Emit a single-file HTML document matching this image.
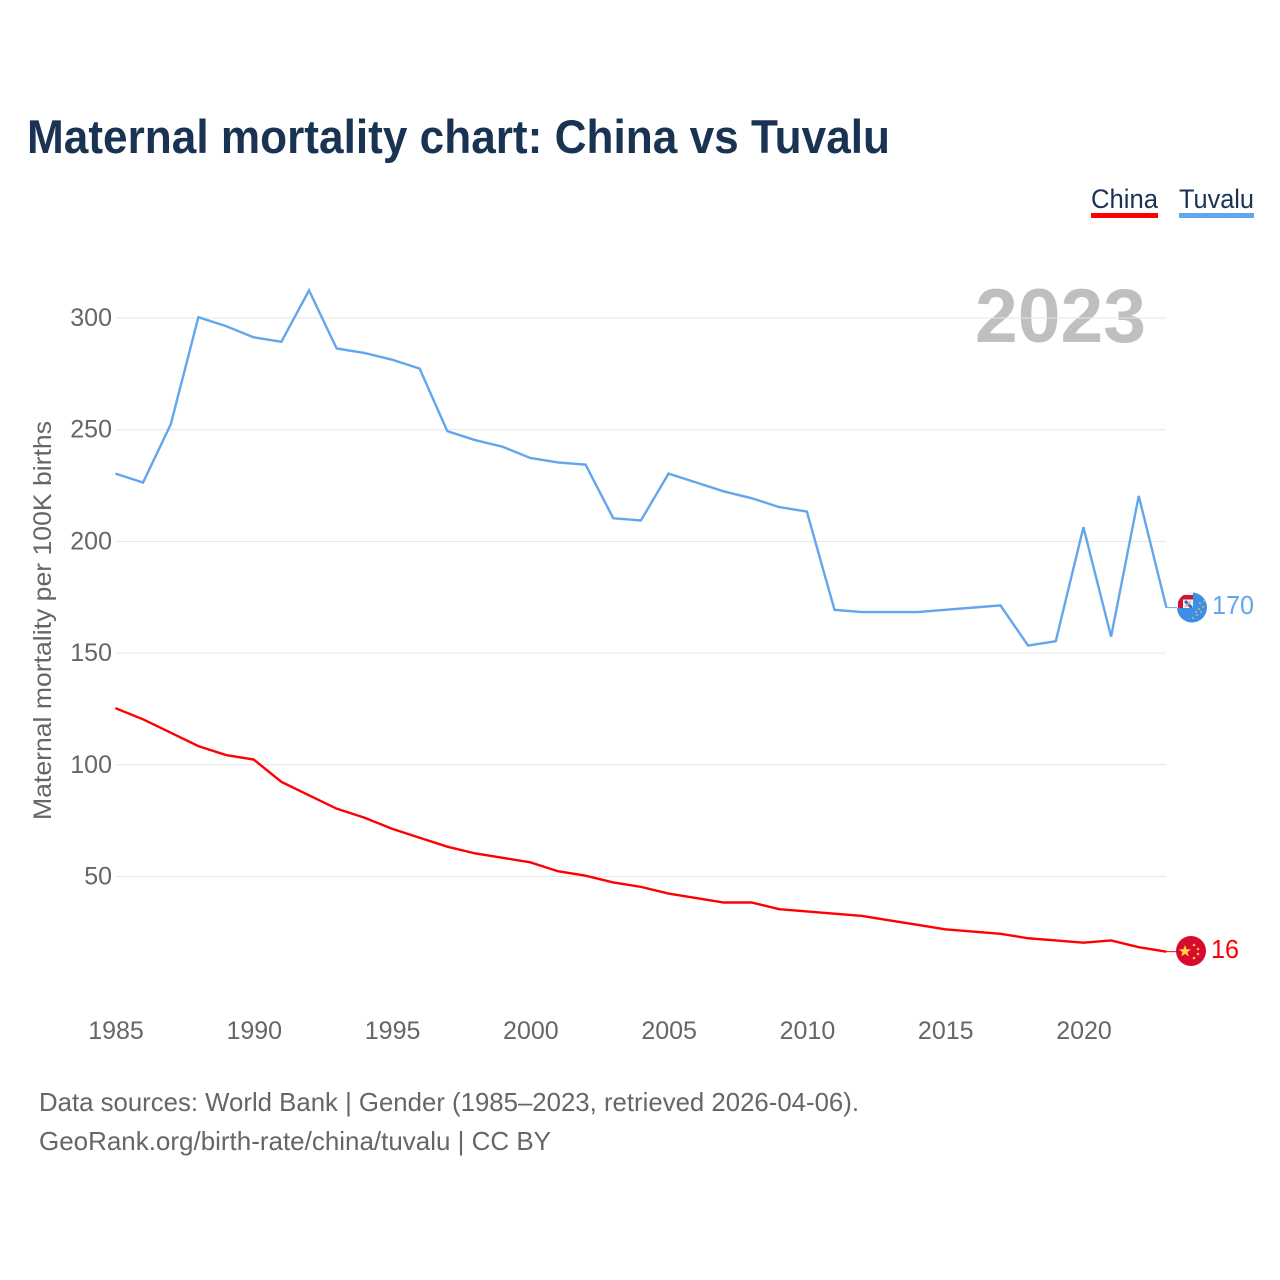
<!DOCTYPE html>
<html lang="en">
<head>
<meta charset="utf-8">
<title>Maternal mortality chart: China vs Tuvalu</title>
<style>
html,body{margin:0;padding:0;background:#fff;}
svg{display:block;font-family:"Liberation Sans",sans-serif;}
</style>
</head>
<body>
<svg id="chart" xmlns="http://www.w3.org/2000/svg" width="1280" height="1280" viewBox="0 0 1280 1280">
  <defs>
    <clipPath id="clip-tv"><circle cx="1192" cy="607.5" r="15"/></clipPath>
    <clipPath id="clip-cn"><circle cx="1191" cy="951" r="15"/></clipPath>
  </defs>
  <text x="27" y="153" font-size="47" font-weight="700" fill="#1a3353" textLength="863" lengthAdjust="spacingAndGlyphs">Maternal mortality chart: China vs Tuvalu</text>

  <text x="1091" y="208" font-size="27" fill="#1a3353" textLength="67" lengthAdjust="spacingAndGlyphs">China</text>
  <rect x="1091" y="213" width="67" height="5" fill="#ff0000"/>
  <text x="1179" y="208" font-size="27" fill="#1a3353" textLength="75" lengthAdjust="spacingAndGlyphs">Tuvalu</text>
  <rect x="1179" y="213" width="75" height="5" fill="#62a6ec"/>

  <text x="975" y="342" font-size="76" font-weight="700" fill="#bfbfbf" textLength="171" lengthAdjust="spacingAndGlyphs">2023</text>

  <g id="grid"></g>
  <g id="y-ticks"></g>
  <g id="x-ticks"></g>
  <text transform="translate(51,820) rotate(-90)" font-size="25" fill="#666666" textLength="399" lengthAdjust="spacingAndGlyphs">Maternal mortality per 100K births</text>
  <g id="series" transform="translate(-0.6,-0.8)"></g>

  <g clip-path="url(#clip-tv)">
    <rect x="1177" y="592" width="30" height="31" fill="#3d8fe6"/>
    <rect x="1177" y="592" width="16" height="16" fill="#f4f4f4"/>
    <rect x="1178" y="595" width="15" height="4.5" fill="#d2152f"/>
    <rect x="1178" y="595" width="5" height="13" fill="#d2152f"/>
    <path d="M1185 601 L1192 608" stroke="#3d6fb8" stroke-width="3"/>
    <path d="M1185 607 L1191 601" stroke="#e9a0aa" stroke-width="1.5"/>
    <g fill="#e6c65a">
      <circle cx="1200" cy="603" r=".9"/><circle cx="1204" cy="601" r=".9"/><circle cx="1203" cy="607" r=".9"/>
      <circle cx="1199" cy="609" r=".9"/><circle cx="1196" cy="612" r=".9"/><circle cx="1201" cy="612" r=".9"/>
      <circle cx="1193" cy="618" r=".9"/><circle cx="1197" cy="615" r=".9"/>
    </g>
  </g>
  <text x="1212" y="614" font-size="26" fill="#62a6ec" textLength="42" lengthAdjust="spacingAndGlyphs">170</text>

  <g clip-path="url(#clip-cn)">
    <rect x="1176" y="936" width="30" height="30" fill="#d80b2f"/>
    <path d="M1185 945 l1.6 4.2 4.4 .2 -3.5 2.7 1.2 4.3 -3.7-2.5 -3.7 2.5 1.2-4.3 -3.5-2.7 4.4-.2z" fill="#ffd83d"/>
    <g fill="#f7c646">
      <circle cx="1194" cy="945" r="1.3"/><circle cx="1198" cy="949" r="1.3"/>
      <circle cx="1198" cy="954" r="1.3"/><circle cx="1194" cy="958" r="1.3"/>
    </g>
  </g>
  <text x="1211" y="958" font-size="26" fill="#ff0000" textLength="28" lengthAdjust="spacingAndGlyphs">16</text>

  <text x="39" y="1111" font-size="26" fill="#666666" textLength="820" lengthAdjust="spacingAndGlyphs">Data sources: World Bank | Gender (1985–2023, retrieved 2026-04-06).</text>
  <text x="39" y="1150" font-size="26" fill="#666666" textLength="512" lengthAdjust="spacingAndGlyphs">GeoRank.org/birth-rate/china/tuvalu | CC BY</text>
</svg>
<script>
const years = [1985,1986,1987,1988,1989,1990,1991,1992,1993,1994,1995,1996,1997,1998,1999,2000,2001,2002,2003,2004,2005,2006,2007,2008,2009,2010,2011,2012,2013,2014,2015,2016,2017,2018,2019,2020,2021,2022,2023];
const tuvaluValues = [230,226,252,300,296,291,289,312,286,284,281,277,249,245,242,237,235,234,210,209,230,226,222,219,215,213,169,168,168,168,169,170,171,153,155,206,157,220,170];
const chinaValues = [125,120,114,108,104,102,92,86,80,76,71,67,63,60,58,56,52,50,47,45,42,40,38,38,35,34,33,32,30,28,26,25,24,22,21,20,21,18,16];
const yTickValues = [50,100,150,200,250,300];
const xTickValues = [1985,1990,1995,2000,2005,2010,2015,2020];

const SVG_NS = 'http://www.w3.org/2000/svg';
function xScale(year) { return 116 + (year - 1985) * (1167 - 116) / 38; }
function yScale(value) { return 876.5 - (value - 50) * (876.5 - 318) / 250; }
function linePoints(values) {
  return values.map(function (v, i) { return xScale(years[i]).toFixed(2) + ',' + yScale(v).toFixed(2); }).join(' ');
}

const gridGroup = document.getElementById('grid');
const yTickGroup = document.getElementById('y-ticks');
yTickValues.forEach(function (v) {
  const gridLine = document.createElementNS(SVG_NS, 'line');
  
  
  gridLine.setAttribute('x1', 116);
  gridLine.setAttribute('x2', 1166);
  gridLine.setAttribute('y1', yScale(v));
  gridLine.setAttribute('y2', yScale(v));
  gridLine.setAttribute('stroke', '#e6e6e6');
  gridLine.setAttribute('stroke-width', 1);
  gridGroup.appendChild(gridLine);

  const label = document.createElementNS(SVG_NS, 'text');
  
  
  label.setAttribute('x', 112);
  label.setAttribute('y', yScale(v) + 8);
  label.setAttribute('text-anchor', 'end');
  label.setAttribute('font-size', 25);
  label.setAttribute('fill', '#666666');
  label.textContent = v;
  yTickGroup.appendChild(label);
});

const xTickGroup = document.getElementById('x-ticks');
xTickValues.forEach(function (year) {
  const label = document.createElementNS(SVG_NS, 'text');
  
  
  label.setAttribute('x', xScale(year));
  label.setAttribute('y', 1039);
  label.setAttribute('text-anchor', 'middle');
  label.setAttribute('font-size', 25);
  label.setAttribute('fill', '#666666');
  label.textContent = year;
  xTickGroup.appendChild(label);
});

const seriesGroup = document.getElementById('series');

const tuvaluLine = document.createElementNS(SVG_NS, 'polyline');


tuvaluLine.setAttribute('points', linePoints(tuvaluValues));
tuvaluLine.setAttribute('fill', 'none');
tuvaluLine.setAttribute('stroke', '#62a6ec');
tuvaluLine.setAttribute('stroke-width', 2.4);
tuvaluLine.setAttribute('stroke-linejoin', 'miter');
seriesGroup.appendChild(tuvaluLine);

const chinaLine = document.createElementNS(SVG_NS, 'polyline');


chinaLine.setAttribute('points', linePoints(chinaValues));
chinaLine.setAttribute('fill', 'none');
chinaLine.setAttribute('stroke', '#ff0000');
chinaLine.setAttribute('stroke-width', 2.4);
chinaLine.setAttribute('stroke-linejoin', 'miter');
seriesGroup.appendChild(chinaLine);

const tuvaluLeader = document.createElementNS(SVG_NS, 'line');


tuvaluLeader.setAttribute('x1', xScale(2023));
tuvaluLeader.setAttribute('x2', 1178);
tuvaluLeader.setAttribute('y1', yScale(tuvaluValues[38]));
tuvaluLeader.setAttribute('y2', yScale(tuvaluValues[38]));
tuvaluLeader.setAttribute('stroke', '#62a6ec');
tuvaluLeader.setAttribute('stroke-width', 1);
seriesGroup.appendChild(tuvaluLeader);

const chinaLeader = document.createElementNS(SVG_NS, 'line');


chinaLeader.setAttribute('x1', xScale(2023));
chinaLeader.setAttribute('x2', 1178);
chinaLeader.setAttribute('y1', yScale(chinaValues[38]));
chinaLeader.setAttribute('y2', yScale(chinaValues[38]));
chinaLeader.setAttribute('stroke', '#ff0000');
chinaLeader.setAttribute('stroke-width', 1);
seriesGroup.appendChild(chinaLeader);
</script>
</body>
</html>
